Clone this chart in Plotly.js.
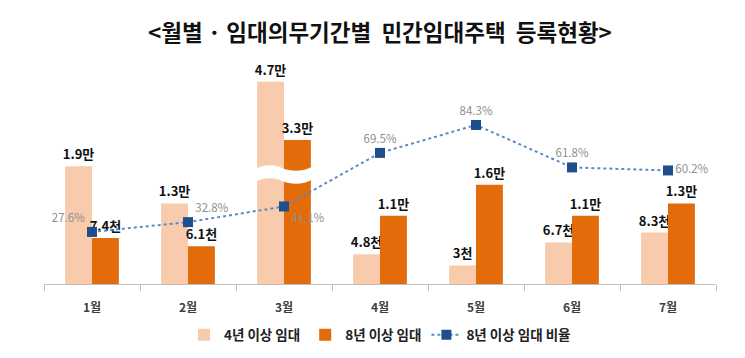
<!DOCTYPE html>
<html>
<head>
<meta charset="utf-8">
<script src="https://cdn.plot.ly/plotly-3.0.1.min.js"></script>
<style>html,body{margin:0;padding:0;background:#fff;}</style>
</head>
<body>
<div id="chart" style="width:745px;height:358px;"></div>
<script>
// ---- data ----
const months = ['1월', '2월', '3월', '4월', '5월', '6월', '7월'];
const rent4 = [19000, 13000, 47000, 4800, 3000, 6700, 8300];   // 4년 이상 임대
const rent8 = [7400, 6100, 33000, 11000, 16000, 11000, 13000]; // 8년 이상 임대
const ratio8 = [27.6, 32.8, 41.1, 69.5, 84.3, 61.8, 60.2];     // 8년 이상 임대 비율 (%)
const seriesNames = ['4년 이상 임대', '8년 이상 임대', '8년 이상 임대 비율'];
const brokenMonth = '3월';

// ---- helpers ----
function fmt(v) {
  const trim = s => s.replace(/\.0$/, '');
  return v >= 10000 ? trim((v / 10000).toFixed(1)) + '만' : trim((v / 1000).toFixed(1)) + '천';
}
const isBroken = i => months[i] === brokenMonth;
const normal = arr => arr.map((v, i) => isBroken(i) ? null : v);
const onlyBroken = arr => arr.map((v, i) => isBroken(i) ? v : null);
const labelsNormal = arr => arr.map((v, i) => isBroken(i) ? '' : fmt(v));
const labelsBroken = arr => arr.map((v, i) => isBroken(i) ? fmt(v) : '');

const C4 = '#F8CBAD', C8 = '#E36C0A';
const FONT = '"Noto Sans CJK KR", "Noto Sans", sans-serif';
const barText = {family: FONT, size: 13, color: '#111', weight: 'bold'};
const W = 0.28;

const barCommon = {textposition: 'outside', cliponaxis: false, constraintext: 'none',
                   textfont: barText, hoverinfo: 'skip', width: W};

const traces = [
  // main bars (continuous axis)
  Object.assign({type: 'bar', name: seriesNames[0], x: months, y: normal(rent4), text: labelsNormal(rent4),
   marker: {color: C4}, offset: -W, yaxis: 'y'}, barCommon),
  Object.assign({type: 'bar', name: seriesNames[1], x: months, y: normal(rent8), text: labelsNormal(rent8),
   marker: {color: C8}, offset: 0, yaxis: 'y'}, barCommon),
  // broken month: upper segment
  Object.assign({type: 'bar', showlegend: false, x: months, y: onlyBroken(rent4), text: labelsBroken(rent4),
   marker: {color: C4}, offset: -W, yaxis: 'y2'}, barCommon),
  Object.assign({type: 'bar', showlegend: false, x: months, y: onlyBroken(rent8), text: labelsBroken(rent8),
   marker: {color: C8}, offset: 0, yaxis: 'y2'}, barCommon),
  // broken month: lower segment
  {type: 'bar', showlegend: false, x: months, y: onlyBroken(rent4), marker: {color: C4},
   width: W, offset: -W, yaxis: 'y3', hoverinfo: 'skip'},
  {type: 'bar', showlegend: false, x: months, y: onlyBroken(rent8), marker: {color: C8},
   width: W, offset: 0, yaxis: 'y3', hoverinfo: 'skip'},
  // ratio line
  {type: 'scatter', name: seriesNames[2], x: months, y: ratio8, yaxis: 'y4',
   mode: 'lines+markers+text', text: ratio8.map(v => v.toFixed(1) + '%'),
   textposition: ['top left', 'top right', 'bottom right', 'top center', 'top center', 'top center', 'middle right'],
   textfont: {family: FONT, size: 11.5, color: '#8f8f8f'}, cliponaxis: false,
   line: {color: '#5a8cc4', width: 2, dash: 'dot'},
   marker: {symbol: 'square', size: 10, color: '#1F4E8C'}, hoverinfo: 'skip'}
];

const hidden = {visible: false, showgrid: false, zeroline: false, fixedrange: true};
const NB = '\u00A0';
const layout = {
  width: 745, height: 358,
  margin: {l: 44, r: 29, t: 60, b: 74, autoexpand: false},
  paper_bgcolor: '#fff', plot_bgcolor: 'rgba(0,0,0,0)',
  font: {family: FONT},
  title: {text: '&lt;월별 · 임대의무기간별' + NB + NB + '민간임대주택' + NB + NB + '등록현황&gt;',
          font: {family: FONT, size: 22.5, color: '#111', weight: 'bold'},
          x: 0.5, xref: 'paper', xanchor: 'center', y: 0.908, yanchor: 'middle'},
  showlegend: true,
  legend: {orientation: 'h', x: 0.5, xanchor: 'center', yref: 'container', y: 0.064, yanchor: 'middle',
           font: {family: FONT, size: 13.5, color: '#222', weight: 'bold'}, traceorder: 'normal'},
  xaxis: {type: 'category', showline: true, linecolor: '#c0c0c0', linewidth: 1,
          ticks: 'outside', tickson: 'boundaries', ticklen: 6, tickcolor: '#c0c0c0',
          ticklabelstandoff: 13,
          tickfont: {family: FONT, size: 12, color: '#404040', weight: 'bold'},
          showgrid: false, zeroline: false, fixedrange: true, automargin: false},
  yaxis: Object.assign({domain: [0, 1], range: [0, 36130]}, hidden),
  yaxis2: Object.assign({domain: [0.4955, 1], range: [25120, 52190], anchor: 'x'}, hidden),
  yaxis3: Object.assign({domain: [0, 0.4777], range: [0, 17258], anchor: 'x'}, hidden),
  yaxis4: Object.assign({domain: [0, 1], range: [0, 118.75], anchor: 'x'}, hidden),
  shapes: []
};

// wavy break band over the broken month (paper coords from pixel offsets within the plot)
(function () {
  const px = x => (x - 44) / 672, py = y => (284 - y) / 224;
  const p = (x, y) => px(x).toFixed(4) + ',' + py(y).toFixed(4);
  const path = 'M' + p(251, 171) +
    ' C' + p(262, 164) + ' ' + p(274, 164) + ' ' + p(282, 168) +
    ' C' + p(292, 172) + ' ' + p(303, 172) + ' ' + p(313, 166) +
    ' L' + p(313, 179) +
    ' C' + p(303, 185) + ' ' + p(292, 185) + ' ' + p(282, 181) +
    ' C' + p(274, 177) + ' ' + p(262, 177) + ' ' + p(251, 184) + ' Z';
  layout.shapes.push({type: 'path', xref: 'paper', yref: 'paper', path: path,
                      fillcolor: '#ffffff', line: {width: 0}, layer: 'above'});
})();

Plotly.newPlot('chart', traces, layout, {displayModeBar: false, staticPlot: true});
</script>
</body>
</html>
